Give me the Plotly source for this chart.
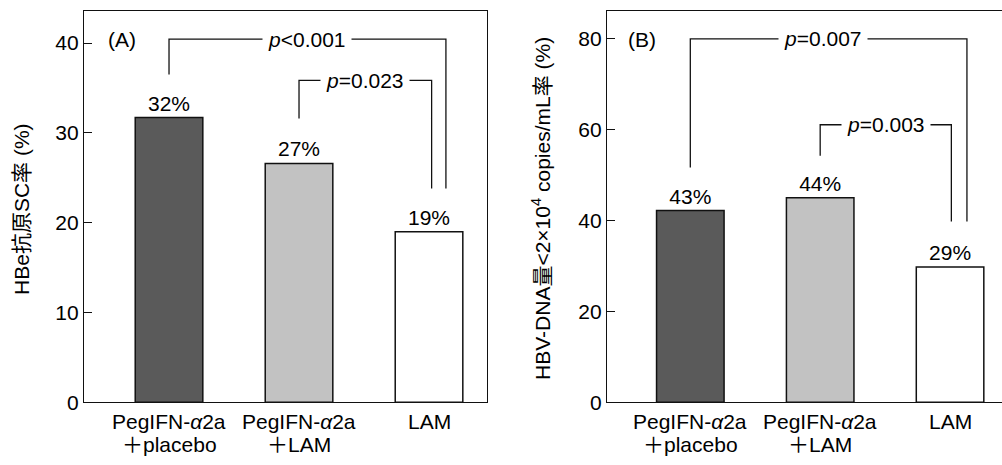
import plotly.graph_objects as go

# ---- data ----
categories_line1 = ["PegIFN-<i>α</i>2a", "PegIFN-<i>α</i>2a", "LAM"]
categories_line2 = ["＋placebo", "＋LAM", ""]
values_A = [31.7, 26.6, 19.0]          # HBe抗原SC率 (%) bar heights as drawn
labels_A = ["32%", "27%", "19%"]
values_B = [42.2, 45.0, 29.8]          # HBV-DNA量<2×10^4 copies/mL率 (%) bar heights as drawn
labels_B = ["43%", "44%", "29%"]
ticks_A = [0, 10, 20, 30, 40]
ticks_B = [0, 20, 40, 60, 80]

# brackets: (left bar, right end x, top y, left end y, right end y, text x, text)
brackets_A = [
    (0, 2.13, 40.45, 36.5, 23.8, 1.06, "<i>p</i>&lt;0.001"),
    (1, 2.02, 35.85, 31.6, 23.8, 1.51, "<i>p</i>=0.023"),
]
brackets_B = [
    (0, 2.13, 80.0, 51.7, 39.8, 1.02, "<i>p</i>=0.007"),
    (1, 2.01, 61.1, 54.3, 39.8, 1.51, "<i>p</i>=0.003"),
]

FONT = "Liberation Sans, Arial, Noto Sans CJK JP, sans-serif"
W, H = 1002, 465
fill_colors = ["#5a5a5a", "#c2c2c2", "#ffffff"]

def px_x(p):
    return p / W

def px_y(p):
    return 1 - p / H

xs = [0, 1, 2]
fig = go.Figure()
for vals, labs, xa, ya in [(values_A, labels_A, "x", "y"), (values_B, labels_B, "x2", "y2")]:
    fig.add_trace(go.Bar(
        x=xs, y=vals, text=labs, textposition="outside",
        textfont=dict(size=21, color="black", family=FONT),
        marker=dict(color=fill_colors, line=dict(color="#111111", width=1.5)),
        width=0.52, xaxis=xa, yaxis=ya, cliponaxis=False, showlegend=False,
        hoverinfo="skip",
    ))

def axis_style(mirror=True):
    return dict(showline=True, linecolor="#111111", linewidth=1.3, mirror=mirror,
                showgrid=False, zeroline=False,
                tickfont=dict(size=21, color="black", family=FONT))

fig.update_layout(
    width=W, height=H, margin=dict(l=0, r=0, t=0, b=0),
    paper_bgcolor="white", plot_bgcolor="white",
    font=dict(family=FONT, color="black"),
    xaxis=dict(domain=[px_x(84), px_x(487)], range=[-0.654, 2.446],
               showticklabels=False, ticks="", anchor="y", **axis_style()),
    yaxis=dict(domain=[px_y(412), px_y(11)], range=[0, 43.6], tickvals=ticks_A,
               ticks="inside", ticklen=8, tickwidth=1.2, tickcolor="#111111",
               anchor="x", **axis_style()),
    xaxis2=dict(domain=[px_x(607), 1.0], range=[-0.6415, 2.40],
                showticklabels=False, ticks="", anchor="y2", **axis_style()),
    yaxis2=dict(domain=[px_y(412), px_y(11)], range=[0, 86.2], tickvals=ticks_B,
                ticks="inside", ticklen=8, tickwidth=1.2, tickcolor="#111111",
                anchor="x2", **axis_style(mirror=False)),
)

shapes = []
annotations = []
for brs, xr, yr in [(brackets_A, "x", "y"), (brackets_B, "x2", "y2")]:
    for (i, xr_end, yt, yl, yrr, tx, txt) in brs:
        path = f"M {i},{yl} L {i},{yt} L {xr_end},{yt} L {xr_end},{yrr}"
        shapes.append(dict(type="path", path=path, xref=xr, yref=yr,
                           line=dict(color="#111111", width=1.3)))
        annotations.append(dict(x=tx, y=yt, xref=xr, yref=yr, text=txt, showarrow=False,
                                font=dict(size=21, color="black", family=FONT),
                                bgcolor="white", borderpad=5, xanchor="center", yanchor="middle"))

# category labels (two lines each), placed under each bar via the x axes
for xr in ["x", "x2"]:
    for i in xs:
        annotations.append(dict(x=i, y=px_y(432), xref=xr, yref="paper",
                                text=categories_line1[i], showarrow=False,
                                xanchor="center", yanchor="middle",
                                font=dict(size=21, color="black", family=FONT)))
        if categories_line2[i]:
            annotations.append(dict(x=i, y=px_y(455), xref=xr, yref="paper",
                                    text=categories_line2[i], showarrow=False,
                                    xanchor="center", yanchor="middle",
                                    font=dict(size=21, color="black", family=FONT)))

# panel labels
annotations.append(dict(x=px_x(106), y=px_y(40), xref="paper", yref="paper", text="(A)",
                        showarrow=False, xanchor="left", yanchor="middle",
                        font=dict(size=21, color="black", family=FONT)))
annotations.append(dict(x=px_x(626), y=px_y(40), xref="paper", yref="paper", text="(B)",
                        showarrow=False, xanchor="left", yanchor="middle",
                        font=dict(size=21, color="black", family=FONT)))
# y titles
annotations.append(dict(x=px_x(22), y=px_y(214), xref="paper", yref="paper",
                        text="HBe抗原SC率 (%)", textangle=-90, showarrow=False,
                        xanchor="center", yanchor="middle",
                        font=dict(size=21, color="black", family=FONT)))
annotations.append(dict(x=px_x(541), y=px_y(214), xref="paper", yref="paper",
                        text="HBV-DNA量&lt;2×10<sup>4</sup> copies/mL率 (%)", textangle=-90,
                        showarrow=False, xanchor="center", yanchor="middle",
                        font=dict(size=21, color="black", family=FONT)))

fig.update_layout(shapes=shapes, annotations=annotations)
fig.write_html("out.html", config={"displayModeBar": False},
               post_script="document.body.style.margin='0px';document.body.style.overflow='hidden';")
